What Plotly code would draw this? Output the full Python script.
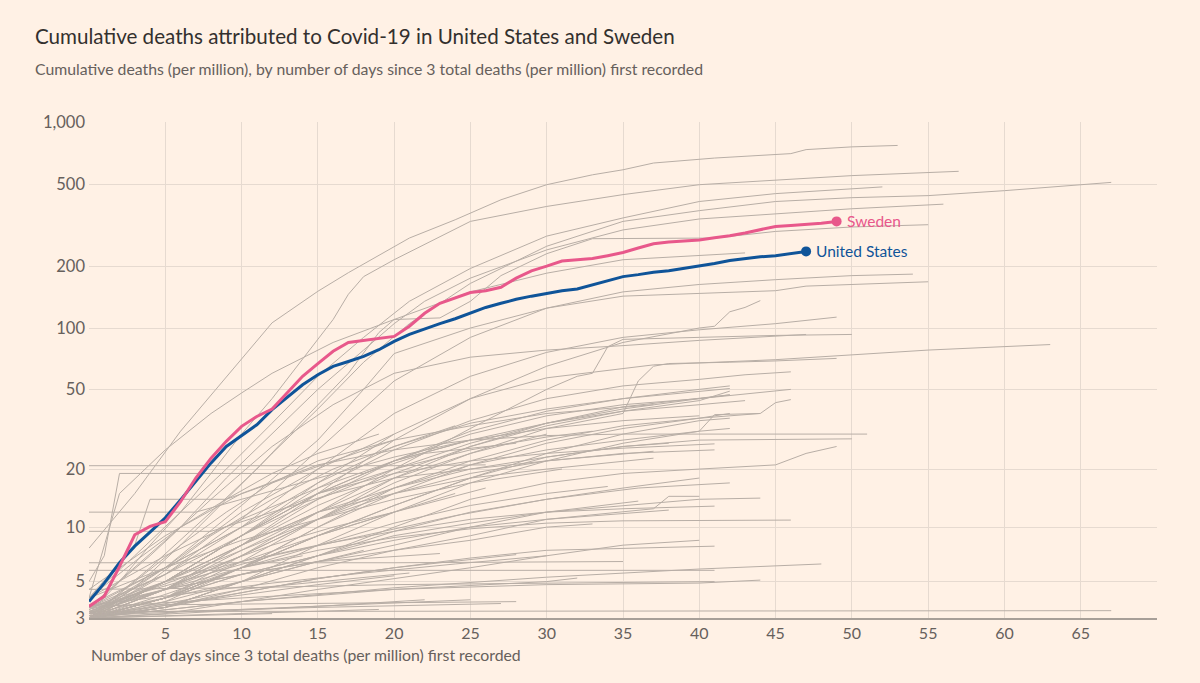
import numpy as np
import plotly.graph_objects as go

# ---------------- data ----------------
us_days = list(range(0, 48))
us_vals = [3.8, 4.9, 6.4, 7.9, 9.4, 11.2, 13.9, 17.3, 21.5, 26, 29.4, 33.4, 39.7, 46, 52.7, 59,
           64.9, 68.6, 72.6, 78.3, 86, 93, 99, 105, 111, 118, 126, 132, 138, 143, 148, 152, 155,
           162, 170, 178, 182, 187, 190, 195, 200, 206, 213, 218, 222, 225, 230, 236]

se_days = list(range(0, 50))
se_vals = [3.55, 4.1, 6.1, 9.1, 10.1, 10.7, 13.6, 18, 22.7, 27.6, 32.8, 36.7, 40, 48, 58, 67, 77,
           85, 87, 89, 91, 102, 118, 132, 140, 149, 152, 158, 175, 190, 200, 212, 215, 218, 225,
           233, 245, 257, 262, 265, 268, 275, 281, 290, 300, 312, 315, 318, 323, 330]

# other countries, upper group (end above ~60)
upper_days = [
    [0, 3, 6, 10, 12, 15, 17, 21, 24, 27, 30, 33, 35, 37, 41, 46, 47, 50, 53],
    [0, 2, 4, 6, 8, 10, 12, 14, 16, 17, 18, 20, 25, 30, 35, 40, 45, 50, 57],
    [0, 3, 6, 9, 12, 15, 18, 21, 25, 30, 35, 40, 45, 50, 55, 60, 67],
    [0, 3, 6, 9, 12, 15, 18, 21, 25, 30, 35, 40, 45, 52],
    [0, 3, 6, 9, 12, 15, 18, 20, 22, 25, 30, 35, 40, 45, 50, 56],
    [0, 4, 8, 11, 14, 17, 19, 20, 23, 25, 27, 30, 33, 41, 45, 50, 55],
    [0, 2, 5, 8, 10, 12, 16, 20, 25, 30, 35, 40, 43],
    [0, 5, 10, 15, 20, 25, 30, 35, 40, 45, 50, 54],
    [0, 5, 10, 15, 18, 20, 25, 30, 35, 40, 45, 47, 50, 55],
    [0, 5, 10, 15, 20, 25, 30, 35, 40, 41, 42, 43, 44],
    [0, 5, 10, 15, 20, 25, 30, 35, 40, 45, 49],
    [0, 5, 10, 15, 20, 25, 30, 32, 33, 34, 35, 40, 45, 50],
    [0, 4, 8, 12, 16, 20, 25, 30, 35, 40, 47],
    [0, 5, 10, 15, 20, 25, 30, 37, 45, 50, 55, 63],
    [0, 5, 10, 15, 20, 25, 30, 35, 36, 37, 38, 42, 45, 49],
    [0, 5, 10, 15, 20, 25, 30, 35, 40, 43, 46],
]
upper_vals = [
    [7.7, 15, 31, 70, 106, 151, 186, 274, 336, 420, 497, 555, 587, 633, 669, 703, 735, 758, 770],
    [3.2, 5, 8, 12, 19, 30, 45, 70, 110, 146, 178, 215, 330, 390, 445, 497, 525, 550, 577],
    [3.1, 4.6, 8, 14, 24, 40, 68, 105, 165, 250, 330, 372, 412, 430, 440, 465, 510],
    [4, 7, 12, 20, 34, 58, 90, 135, 195, 280, 343, 412, 450, 485],
    [3.5, 6, 10, 18, 30, 50, 78, 105, 135, 175, 240, 300, 339, 360, 380, 400],
    [3, 6, 12, 20, 35, 60, 95, 110, 112, 135, 180, 230, 272, 274, 295, 310, 318],
    [4, 15, 25, 38, 48, 60, 85, 110, 150, 185, 215, 225, 232],
    [3, 5.5, 11, 25, 55, 90, 125, 150, 163, 172, 180, 183],
    [3.2, 6, 13, 28, 50, 75, 100, 125, 143, 148, 152, 160, 163, 168],
    [3, 4.5, 8, 15, 28, 45, 65, 85, 100, 102, 120, 126, 136],
    [3.4, 5.5, 10, 20, 38, 58, 76, 90, 98, 105, 113],
    [3, 4, 7, 12, 20, 32, 50, 58, 60, 81, 88, 90, 92, 93],
    [3.5, 7, 14, 26, 42, 60, 72, 78, 82, 87, 93],
    [3, 5, 9, 17, 30, 45, 57, 66, 70, 74, 78, 83],
    [3.2, 4.5, 7, 11, 17, 24, 32, 38, 55, 65, 67, 68, 69, 71],
    [3, 5, 9, 16, 25, 35, 45, 52, 56, 59, 61],
]

# middle group (end roughly 20-60)
middle_days = [
    [0, 5, 10, 15, 20, 25, 30, 35, 40, 42],
    [0, 5, 10, 15, 20, 25, 30, 35, 42],
    [0, 5, 10, 15, 20, 25, 30, 35, 42],
    [0, 5, 10, 15, 20, 25, 30, 35, 40, 46],
    [0, 5, 10, 15, 20, 25, 30, 35, 40, 43],
    [0, 5, 10, 15, 20, 25, 30, 35, 40, 44, 45, 46],
    [0, 5, 10, 15, 20, 25, 30, 35, 40, 42],
    [0, 5, 10, 15, 20, 25, 30, 35, 40, 41, 44],
    [0, 5, 10, 15, 20, 25, 30, 35, 40, 42],
    [0, 5, 10, 15, 20, 25, 30, 35, 51],
    [0, 5, 10, 15, 20, 25, 30, 35, 40, 50],
    [0, 5, 10, 15, 20, 25, 30, 35, 41],
    [0, 5, 10, 15, 20, 25, 30, 35, 40, 45, 47, 49],
    [0, 5, 10, 15, 20, 25, 30, 37],
    [0, 5, 10, 15, 20, 25, 30, 37],
    [0, 5, 10, 15, 20, 25, 30, 33],
    [0, 20, 26],
    [0, 1, 2, 18, 22, 28],
    [0, 7, 10, 15, 20, 25, 30, 35, 40],
    [0, 8, 12, 16, 20, 25, 30, 35, 41],
    [0, 3, 4, 9, 12, 16, 20, 25, 30, 37],
    [0, 5, 10, 15, 20, 25, 30],
    [0, 5, 10, 15, 20, 25],
    [0, 5, 10, 15, 20],
    [0, 4, 8, 12, 16, 20, 24],
    [0, 5, 10, 15, 20, 25, 30, 35, 38],
    [0, 3, 6, 9, 12, 15, 20],
    [0, 3, 6, 9, 12, 15, 19],
    [0, 5, 10, 15, 20, 25, 30, 35, 40, 42],
    [0, 5, 10, 15, 20, 25, 30, 35, 40, 42],
    [0, 5, 10, 15, 20, 25, 30, 35, 40, 42],
]
middle_vals = [
    [3, 4.5, 8, 14, 22, 31, 39, 45, 50, 52],
    [3.6, 6, 10, 17, 26, 34, 40, 45, 50.5],
    [3, 4, 6.5, 11, 18, 26, 34, 41, 47],
    [3.2, 5, 9, 15, 22, 30, 37, 42, 45, 50],
    [4, 7, 11, 16, 22, 28, 34, 39, 42, 44],
    [3, 4, 6, 10, 16, 22, 28, 33, 36, 38, 43, 44.5],
    [3, 3.8, 6, 10, 15, 21, 27, 32, 36, 38],
    [3, 3.5, 5, 8, 12, 17, 22, 27, 31, 37.5, 38],
    [3.3, 5, 7.5, 11, 16, 21, 25, 28, 31, 32],
    [4.5, 9, 15, 21, 25, 28, 29.5, 30, 30],
    [3, 4, 6, 9, 13, 18, 23, 26, 28, 28.4],
    [3.5, 6, 10, 15, 19, 22, 24, 25.5, 26.8],
    [3, 3.5, 5, 7, 10, 14, 17, 19, 20, 21, 24, 26],
    [3, 4.5, 7, 11, 15, 19, 22, 24.6],
    [3.2, 5, 8, 12, 15, 18, 20, 22.7],
    [3, 5, 9, 15, 20, 25, 29, 31],
    [20.8, 20.8, 21],
    [5, 7, 19, 19, 24, 27],
    [12, 12, 14, 18, 23, 28, 32, 35, 37],
    [9.5, 9.5, 12, 15, 18, 20, 22, 24, 25],
    [4, 8, 14, 14, 17, 22, 28, 33, 38, 42],
    [3, 4.5, 7.5, 12, 18, 24, 30],
    [3.2, 5, 9, 15, 22, 28],
    [3, 6, 12, 20, 30],
    [3, 5, 9, 14, 20, 26, 33],
    [3, 5, 8, 12, 16, 20, 23, 26, 27],
    [3, 5, 8, 12, 17, 22, 28],
    [4, 6.5, 10, 14, 19, 24, 30],
    [3, 4, 6, 9, 13, 18, 24, 30, 35, 36],
    [3.5, 5.5, 9, 14, 20, 27, 34, 40, 45, 47],
    [3, 5, 8, 13, 19, 26, 33, 39, 44, 49],
]

# lower group (end below ~20)
lower_days = [
    [0, 5, 10, 15, 20, 25, 30, 35, 40],
    [0, 5, 10, 15, 20, 25, 30, 35, 40, 44],
    [0, 5, 10, 15, 20, 25, 30, 35, 37, 38, 40],
    [0, 5, 10, 15, 20, 25, 30, 35, 41],
    [0, 5, 10, 15, 20, 25, 30, 38],
    [0, 5, 10, 15, 20, 25, 30, 35, 46],
    [0, 5, 10, 15, 20, 25, 30, 36],
    [0, 5, 10, 15, 20, 25, 30, 33],
    [0, 5, 10, 15, 20, 25, 30, 34],
    [0, 5, 10, 15, 20, 25, 30, 41],
    [0, 10, 20, 30, 40, 48],
    [0, 20, 41],
    [0, 10, 20, 30, 40, 42, 44],
    [0, 67],
    [0, 5, 10, 15, 20, 28],
    [0, 28],
    [0, 15, 27],
    [0, 5, 10, 15, 23],
    [0, 10, 21],
    [0, 10, 20, 30, 32],
    [0, 20, 35],
    [0, 19],
    [0, 12],
    [0, 25],
    [0, 5, 10, 15, 20, 26],
    [0, 5, 10, 15, 20, 24],
    [0, 5, 10, 15, 18],
    [0, 5, 10, 14],
    [0, 5, 10, 15, 20, 25, 30, 35, 40],
    [0, 6, 12, 18, 24, 30, 36, 42],
    [0, 5, 10, 15, 20, 25, 31],
    [0, 4, 8, 12, 16, 20],
    [0, 5, 10, 15, 20],
    [0, 10, 20, 30, 41],
    [0, 8, 16, 22],
    [0, 6, 12, 18, 24, 30],
]
lower_vals = [
    [3, 3.5, 5, 7, 9.5, 12, 14, 16, 18],
    [3.2, 4, 5.5, 7, 9, 10.5, 12, 13, 14, 14.2],
    [3, 3.5, 4.5, 6, 7.5, 9, 11, 12, 12.5, 14.5, 14.5],
    [3.5, 5, 6.5, 8, 9.5, 11, 12, 12.5, 12.9],
    [3, 4, 5.5, 7, 8.5, 10, 11, 12.3],
    [3, 4.2, 6, 7.5, 8.8, 9.8, 10.5, 10.8, 10.9],
    [3, 4, 5, 6.5, 8, 10, 12, 13.7],
    [3.3, 4.5, 5.5, 6.5, 7.5, 8.5, 10, 10.4],
    [3, 4, 6, 8, 10.5, 13, 15, 16.3],
    [3, 3.5, 4.3, 5.2, 6, 6.8, 7.5, 7.9],
    [3, 3.8, 4.6, 5.3, 5.9, 6.3],
    [5.8, 5.8, 5.8],
    [3.5, 4, 4.5, 4.8, 4.9, 5, 5.1],
    [3.3, 3.34],
    [3, 3.6, 4.3, 5.2, 6, 7.1],
    [3.6, 3.8],
    [3.2, 3.5, 3.7],
    [3.5, 4.5, 5.5, 6.5, 7.2],
    [3, 4.5, 5.6],
    [3, 3.8, 4.5, 5, 5.24],
    [6.4, 6.4, 6.5],
    [3, 3.4],
    [3, 3.2],
    [3.1, 3.9],
    [3.4, 4.5, 6.5, 9, 12, 16],
    [3, 4, 6, 9, 12, 15],
    [3, 3.8, 5, 6.5, 7.5],
    [3.2, 4.5, 6, 7],
    [3, 3.2, 3.8, 4.5, 5.2, 6, 7, 8, 8.5],
    [3.5, 5, 7, 9, 11.5, 14, 16, 17],
    [4, 6, 8.5, 11, 14, 17, 20],
    [3.3, 4.5, 6, 8, 10, 12],
    [3.1, 3.6, 4.2, 4.8, 5.4],
    [4.5, 4.6, 4.8, 4.9, 5.0],
    [3, 3.3, 3.6, 3.9],
    [3.6, 4.2, 4.9, 5.6, 6.3, 7.0],
]

y_ticks = [3, 5, 10, 20, 50, 100, 200, 500, 1000]
y_ticktext = ["3", "5", "10", "20", "50", "100", "200", "500", "1,000"]
x_ticks = [5, 10, 15, 20, 25, 30, 35, 40, 45, 50, 55, 60, 65]

# The reference uses a log(1 + value) scale, so values are shifted by 1 on a log axis
OFFSET = 1.0

BG = "#fff1e5"
GREY = "#b8aea6"
PINK = "#e8588b"
BLUE = "#0f5499"
TEXT = "#66605c"
FONT = "Lato"

fig = go.Figure()

for group_days, group_vals in [(lower_days, lower_vals), (middle_days, middle_vals),
                               (upper_days, upper_vals)]:
    for d, v in zip(group_days, group_vals):
        fig.add_trace(go.Scatter(x=d, y=[val + OFFSET for val in v], mode="lines",
                                 line=dict(color=GREY, width=1), hoverinfo="skip",
                                 showlegend=False))

for d, v, col in [(us_days, us_vals, BLUE), (se_days, se_vals, PINK)]:
    fig.add_trace(go.Scatter(x=d, y=[val + OFFSET for val in v], mode="lines",
                             line=dict(color=col, width=3), showlegend=False))
    fig.add_trace(go.Scatter(x=[d[-1]], y=[v[-1] + OFFSET], mode="markers",
                             marker=dict(color=col, size=10), showlegend=False))

for d, v, col, name in [(se_days, se_vals, PINK, "Sweden"),
                        (us_days, us_vals, BLUE, "United States")]:
    fig.add_annotation(x=d[-1], y=np.log10(v[-1] + OFFSET), text=name, showarrow=False,
                       xanchor="left", yanchor="middle", xshift=8,
                       font=dict(family=FONT, size=15.5, color=col))

fig.add_annotation(xref="paper", yref="paper", x=(33 - 89) / 1068, y=(618 - 36) / 496,
                   text="Cumulative deaths attributed to Covid-19 in United States and Sweden",
                   showarrow=False, xanchor="left", yanchor="middle",
                   font=dict(family=FONT, size=20.6, color="#33302e"))
fig.add_annotation(xref="paper", yref="paper", x=(33 - 89) / 1068, y=(618 - 69) / 496,
                   text="Cumulative deaths (per million), by number of days since 3 total deaths (per million) first recorded",
                   showarrow=False, xanchor="left", yanchor="middle",
                   font=dict(family=FONT, size=15.8, color=TEXT))
fig.add_annotation(xref="paper", yref="paper", x=0, y=(618 - 654) / 496,
                   text="Number of days since 3 total deaths (per million) first recorded",
                   showarrow=False, xanchor="left", yanchor="middle",
                   font=dict(family=FONT, size=15.8, color=TEXT))

fig.update_layout(
    width=1200, height=683,
    margin=dict(l=89, r=43, t=122, b=65),
    paper_bgcolor=BG, plot_bgcolor=BG,
    font=dict(family=FONT, color=TEXT, size=15),
    xaxis=dict(range=[0, 70], tickvals=x_ticks, showgrid=True, gridcolor="#e6dad0",
               gridwidth=1, zeroline=False, showline=True, linecolor="#a79f98",
               linewidth=1.5, ticks="", tickfont=dict(size=16, color=TEXT)),
    yaxis=dict(type="log", range=[np.log10(3 + OFFSET), np.log10(1000 + OFFSET)],
               tickvals=[t + OFFSET for t in y_ticks], ticktext=y_ticktext,
               showgrid=True, gridcolor="#e6dad0", gridwidth=1, zeroline=False,
               showline=False, ticks="", ticklabelstandoff=3,
               tickfont=dict(size=16.5, color=TEXT)),
)

fig.write_html("out.html")
